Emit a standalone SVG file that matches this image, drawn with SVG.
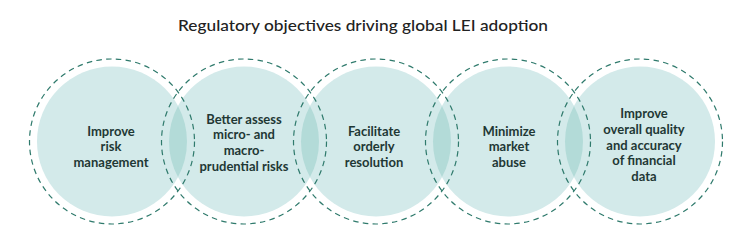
<svg xmlns="http://www.w3.org/2000/svg" width="750" height="243" viewBox="0 0 750 243">
<defs>
<style>
.fill{fill:#d3eaea}
.lens{fill:#b3dbd8}
.ring{fill:none;stroke:#2f7a6c;stroke-width:1.2;stroke-dasharray:5.5 4.3}
.lbl{font-family:"Lato","Noto Sans",sans-serif;font-weight:700;font-size:13px;fill:#1f3835;text-anchor:middle}
.title{font-family:"Lato","Noto Sans",sans-serif;font-weight:500;font-size:16px;fill:#222;text-anchor:start}
</style>
</defs>
<rect width="750" height="243" fill="#fff"/>
<text class="title" x="178" y="31" textLength="370" lengthAdjust="spacingAndGlyphs">Regulatory objectives driving global LEI adoption</text>
<g id="fills">
<circle class="fill" cx="112" cy="141.5" r="75"/>
<circle class="fill" cx="244" cy="141.5" r="75"/>
<circle class="fill" cx="376" cy="141.5" r="75"/>
<circle class="fill" cx="508" cy="141.5" r="75"/>
<circle class="fill" cx="640" cy="141.5" r="75"/>
</g>
<g id="overlaps">
<path class="lens" d="M178,105.9 A75,75 0 0 1 178,177.1 A75,75 0 0 1 178,105.9 Z"/>
<path class="lens" d="M310,105.9 A75,75 0 0 1 310,177.1 A75,75 0 0 1 310,105.9 Z"/>
<path class="lens" d="M442,105.9 A75,75 0 0 1 442,177.1 A75,75 0 0 1 442,105.9 Z"/>
<path class="lens" d="M574,105.9 A75,75 0 0 1 574,177.1 A75,75 0 0 1 574,105.9 Z"/>
</g>
<g id="node1">
<circle class="ring" cx="112" cy="141.5" r="82.5"/>
<text class="lbl" x="111"><tspan x="111" y="135.5">Improve</tspan><tspan x="111" y="151">risk</tspan><tspan x="111" y="166.5">management</tspan></text>
</g>
<g id="node2">
<circle class="ring" cx="244" cy="141.5" r="82.5"/>
<text class="lbl" x="244"><tspan x="244" y="123.5">Better assess</tspan><tspan x="244" y="139">micro- and</tspan><tspan x="244" y="155">macro-</tspan><tspan x="244" y="170.5">prudential risks</tspan></text>
</g>
<g id="node3">
<circle class="ring" cx="376" cy="141.5" r="82.5"/>
<text class="lbl" x="374"><tspan x="374" y="135.5">Facilitate</tspan><tspan x="374" y="151">orderly</tspan><tspan x="374" y="166.5">resolution</tspan></text>
</g>
<g id="node4">
<circle class="ring" cx="508" cy="141.5" r="82.5"/>
<text class="lbl" x="509"><tspan x="509" y="135.5">Minimize</tspan><tspan x="509" y="151">market</tspan><tspan x="509" y="166.5">abuse</tspan></text>
</g>
<g id="node5">
<circle class="ring" cx="640" cy="141.5" r="82.5"/>
<text class="lbl" x="644"><tspan x="644" y="118">Improve</tspan><tspan x="644" y="133.5">overall quality</tspan><tspan x="644" y="149.5">and accuracy</tspan><tspan x="644" y="165">of financial</tspan><tspan x="644" y="180.5">data</tspan></text>
</g>
</svg>
